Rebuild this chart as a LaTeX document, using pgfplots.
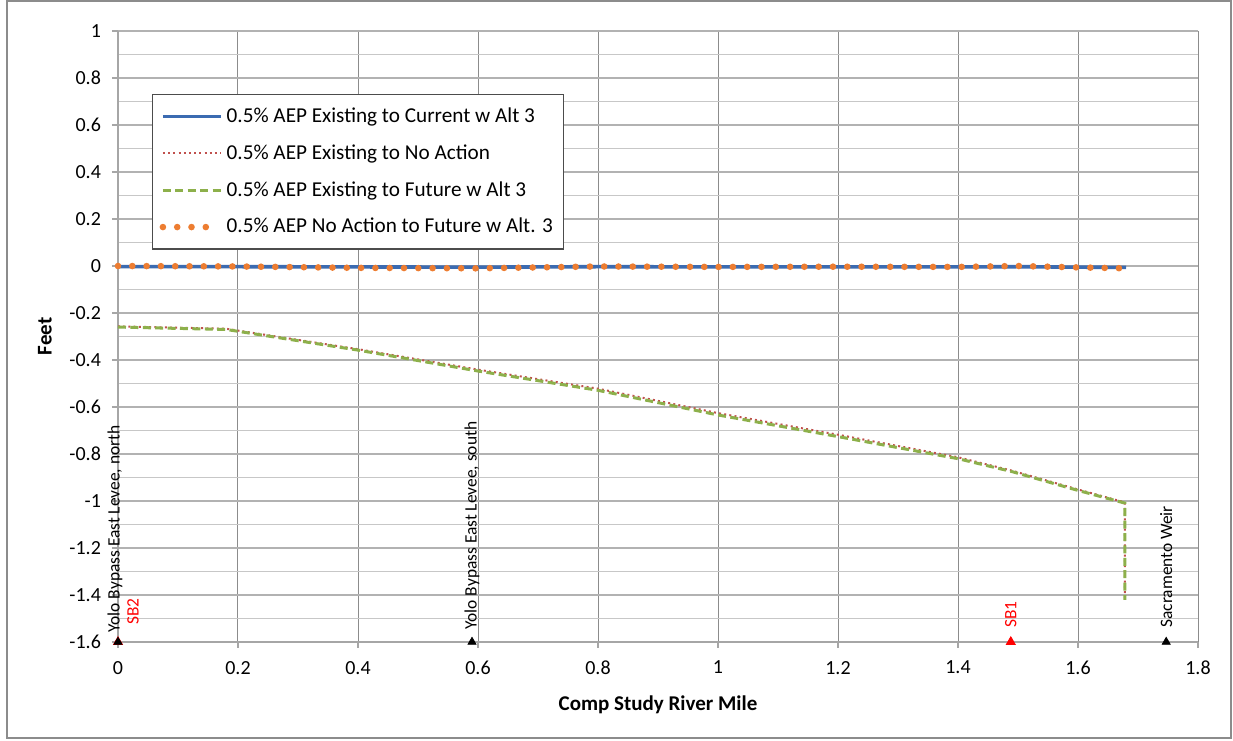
\documentclass[border=0pt]{standalone}
\usepackage{fontspec}
\setmainfont{Carlito}
\usepackage{pgfplots}
\pgfplotsset{compat=1.18}
\definecolor{cblue}{HTML}{3B6BB1}
\definecolor{cred}{HTML}{C0504D}
\definecolor{cgreen}{HTML}{8DB04B}
\definecolor{corange}{HTML}{ED7D31}
\pgfplotsset{
  longlegend/.style={legend image code/.code={\draw[##1] (0pt,0pt) -- (29pt,0pt);}},
  shortlegend/.style={legend image code/.code={\draw[##1] (0pt,0pt) -- (24pt,0pt);}},
}
\begin{document}
\begin{tikzpicture}
\begin{axis}[name=ax,
  scale only axis, width=540pt, height=305.5pt,
  xmin=0, xmax=1.8, ymin=-1.6, ymax=1,
  xtick={0,0.2,0.4,0.6,0.8,1,1.2,1.4,1.6,1.8},
  ytick={-1.6,-1.4,-1.2,-1,-0.8,-0.6,-0.4,-0.2,0,0.2,0.4,0.6,0.8,1},
  minor ytick={-1.5,-1.3,-1.1,-0.9,-0.7,-0.5,-0.3,-0.1,0.1,0.3,0.5,0.7,0.9},
  grid=both,
  x grid style={draw=black!45, line width=0.5pt},
  major y grid style={draw=black!30, line width=0.6pt},
  minor y grid style={draw=black!22, line width=0.5pt},
  axis line style={draw=black!35, line width=0.6pt},
  axis x line*=bottom, axis y line*=left,
  tick align=outside,
  major tick length=3pt, minor tick length=0pt,
  tick style={draw=black!35, line width=0.6pt},
  /pgf/number format/assume math mode=true,
  ticklabel style={font=\fontsize{10}{12}\selectfont},
  xticklabel style={yshift=-3pt},
  yticklabel style={xshift=-2pt},
  xlabel={\textbf{Comp Study River Mile}},
  ylabel={\textbf{Feet}},
  label style={font=\fontsize{10.5}{12}\selectfont},
  xlabel style={at={(rel axis cs:0.5,0)}, anchor=center, yshift=-31.5pt},
  ylabel style={at={(rel axis cs:0,0.5)}, anchor=center, yshift=36.5pt},
  clip=false,
  legend cell align=left,
  legend style={at={(rel axis cs:0.0315,0.897)}, anchor=north west,
    draw=black!70, line width=0.6pt, fill=white,
    font=\fontsize{10.6}{12}\selectfont,
    row sep=5.6pt, inner xsep=3.5pt, inner ysep=4.5pt,
    /tikz/every odd column/.append style={column sep=0pt}},
  longlegend,
]
\addplot[cblue, line width=1.8pt] coordinates {
(0,-0.003)(0.2,-0.003)(0.4,-0.004)(0.6,-0.005)(0.8,-0.003)(1.0,-0.004)
(1.2,-0.004)(1.4,-0.004)(1.5,-0.003)(1.6,-0.005)(1.68,-0.006)};
\addlegendentry{0.5\% AEP Existing to Current w Alt 3}

\addplot[cred, line width=1pt, dash pattern=on 1pt off 1.6pt] coordinates {
(0,-0.257)(0.18,-0.267)(0.4,-0.354)(0.6,-0.441)(0.8,-0.522)(1.0,-0.626)
(1.2,-0.718)(1.4,-0.814)(1.49,-0.871)(1.6,-0.951)(1.678,-1.006)(1.678,-1.418)};
\addlegendentry{0.5\% AEP Existing to No Action}

\addplot[cgreen, line width=1.5pt, dash pattern=on 4pt off 2.2pt] coordinates {
(0,-0.26)(0.18,-0.27)(0.4,-0.358)(0.6,-0.447)(0.8,-0.529)(1.0,-0.634)
(1.2,-0.726)(1.4,-0.82)(1.49,-0.875)(1.6,-0.955)(1.678,-1.009)(1.678,-1.421)};
\addlegendentry{0.5\% AEP Existing to Future w Alt 3}

\addplot[corange, line width=3.3pt, line cap=round, dash pattern=on 0pt off 7.15pt, shortlegend] coordinates {
(0,0)(0.2,-0.002)(0.4,-0.008)(0.6,-0.01)(0.8,-0.002)(1.0,-0.004)
(1.2,-0.003)(1.4,-0.004)(1.5,0)(1.6,-0.006)(1.68,-0.01)};
\addlegendentry{0.5\% AEP No Action to Future w Alt. 3}

\addplot[only marks, mark=triangle*, mark size=2.6pt, red, forget plot] coordinates {(0,-1.6)(1.488,-1.6)};
\addplot[only marks, mark=triangle*, mark size=2.3pt, black, forget plot] coordinates {(0,-1.6)(0.59,-1.6)(1.747,-1.6)};

\node[rotate=90, anchor=west, inner sep=0pt, font=\fontsize{8.7}{10}\selectfont] at ([xshift=-1.5pt,yshift=4.5pt]axis cs:0,-1.6) {Yolo Bypass East Levee, north};
\node[rotate=90, anchor=west, inner sep=0pt, text=red, font=\fontsize{8.7}{10}\selectfont] at ([xshift=7.5pt,yshift=8.5pt]axis cs:0,-1.6) {SB2};
\node[rotate=90, anchor=west, inner sep=0pt, font=\fontsize{8.7}{10}\selectfont] at ([yshift=6pt]axis cs:0.59,-1.6) {Yolo Bypass East Levee, south};
\node[rotate=90, anchor=west, inner sep=0pt, text=red, font=\fontsize{8.7}{10}\selectfont] at ([yshift=7pt]axis cs:1.488,-1.6) {SB1};
\node[rotate=90, anchor=west, inner sep=0pt, font=\fontsize{8.7}{10}\selectfont] at ([yshift=7pt]axis cs:1.747,-1.6) {Sacramento Weir};
\end{axis}
\draw[black!45, line width=1pt] ([shift={(-55.5pt,-48pt)}]ax.south west) rectangle ([shift={(16.5pt,15pt)}]ax.north east);
\useasboundingbox ([shift={(-59pt,-49.5pt)}]ax.south west) rectangle ([shift={(17.5pt,15.5pt)}]ax.north east);
\end{tikzpicture}
\end{document}
